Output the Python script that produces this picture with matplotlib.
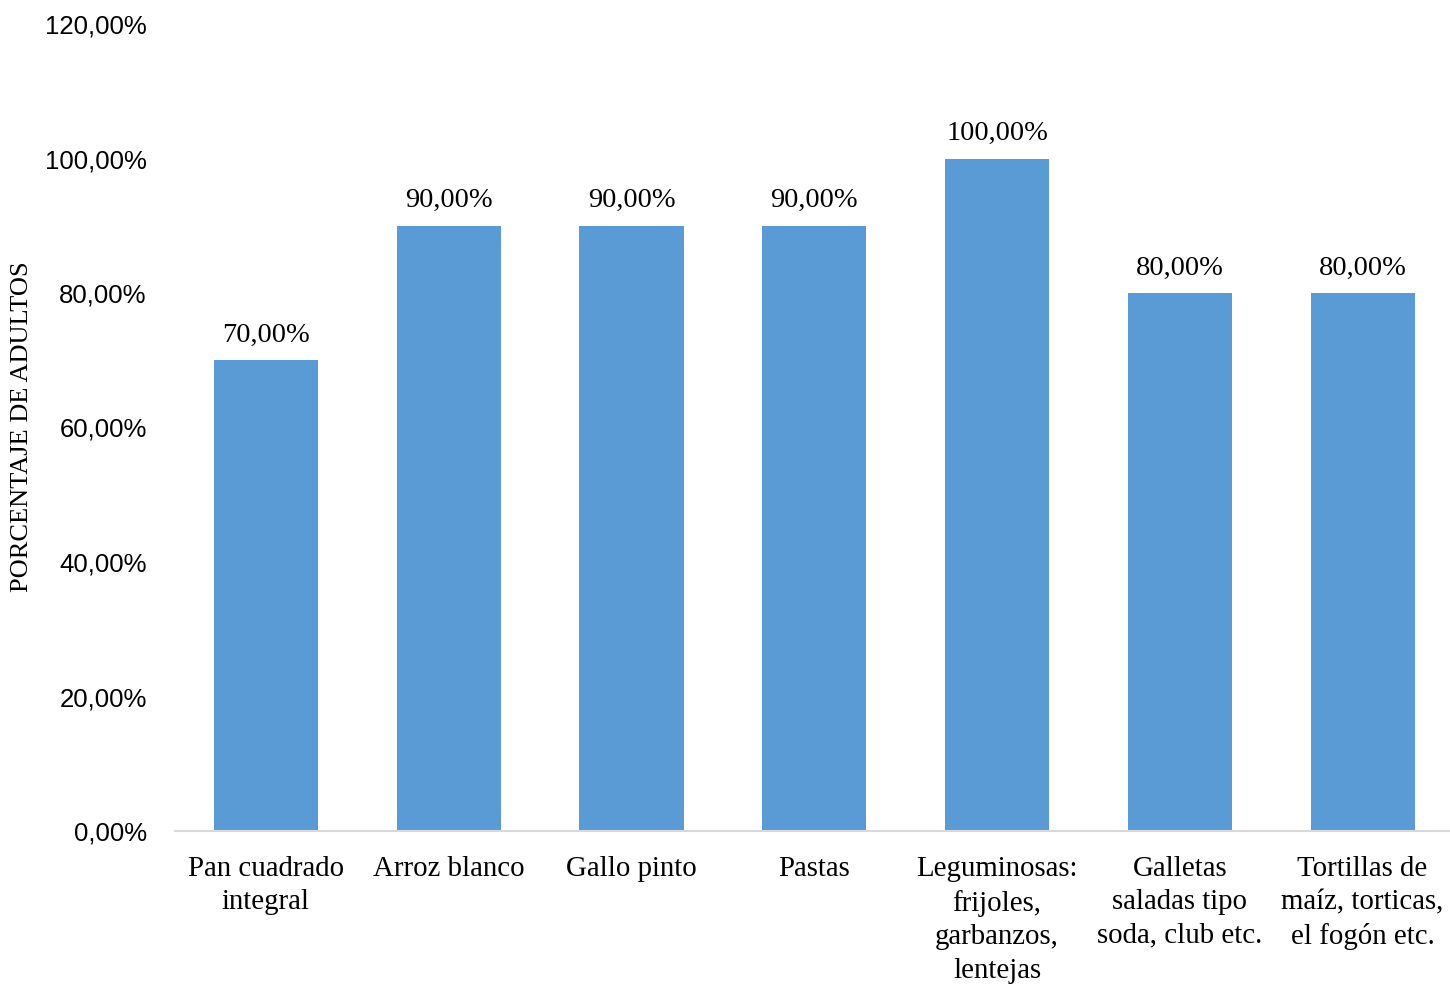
import matplotlib
matplotlib.use("Agg")
import matplotlib.pyplot as plt

categories = ["Pan cuadrado\nintegral", "Arroz blanco", "Gallo pinto", "Pastas",
              "Leguminosas:\nfrijoles,\ngarbanzos,\nlentejas",
              "Galletas\nsaladas tipo\nsoda, club etc.",
              "Tortillas de\nmaíz, torticas,\nel fogón etc."]
values = [70, 90, 90, 90, 100, 80, 80]
yticks = [0, 20, 40, 60, 80, 100, 120]
ytick_labels = ["0,00%", "20,00%", "40,00%", "60,00%", "80,00%", "100,00%", "120,00%"]
ylabel = "PORCENTAJE DE ADULTOS"

W, H = 1450, 984
fig = plt.figure(figsize=(W / 100, H / 100), dpi=100)
ax = fig.add_axes([174.5 / W, (H - 831) / H, (1454 - 174.5) / W, (831 - 24) / H])

x = list(range(len(values)))
ax.bar(x, values, width=0.57, color="#5B9BD5", zorder=2)
for xi, v in zip(x, values):
    ax.annotate(f"{v:.2f}%".replace(".", ","), (xi, v), xytext=(0, 9),
                textcoords="offset points", ha="center", va="bottom",
                fontsize=20.5, family="Liberation Serif", color="#000000")

ax.set_xlim(-0.5, len(values) - 0.5)
ax.set_ylim(0, 120)
ax.set_yticks(yticks)
ax.set_yticklabels(ytick_labels, family="Liberation Sans", fontsize=18.5)
ax.set_xticks(x)
ax.set_xticklabels(categories, family="Liberation Serif", fontsize=20.8,
                   linespacing=1.37, va="top")
ax.tick_params(axis="both", length=0)
ax.tick_params(axis="y", pad=20)
ax.tick_params(axis="x", pad=18)

for s in ["top", "right", "left"]:
    ax.spines[s].set_visible(False)
ax.spines["bottom"].set_color("#D9D9D9")
ax.spines["bottom"].set_linewidth(1.5)

fig.text(22 / W, 1 - 427 / H, ylabel, rotation=90, ha="center", va="center",
         family="Liberation Serif", fontsize=19)

fig.savefig("out.png", dpi=100)
